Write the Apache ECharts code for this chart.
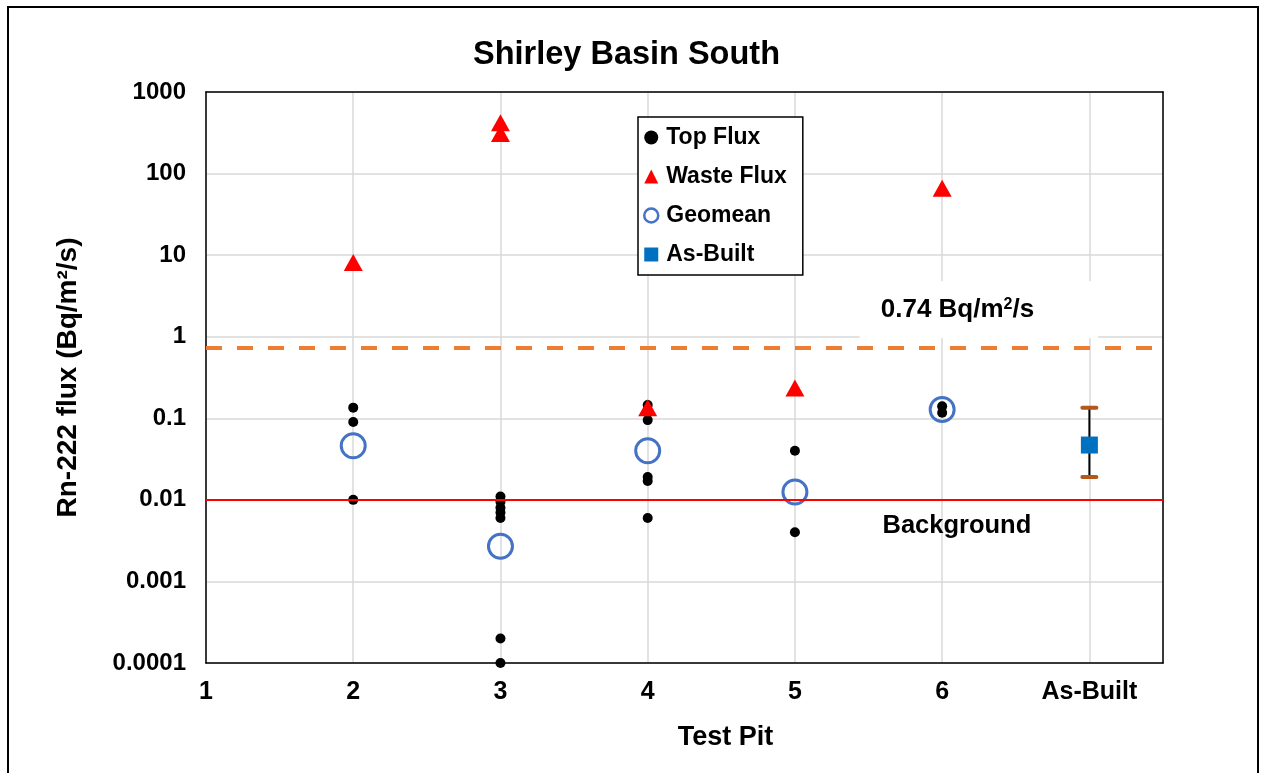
<!DOCTYPE html>
<html>
<head>
<meta charset="utf-8">
<script src="https://cdn.jsdelivr.net/npm/echarts@6/dist/echarts.min.js"></script>
<style>
html,body{margin:0;padding:0;background:#fff;}
#chart{width:1262px;height:773px;}
</style>
</head>
<body>
<div id="chart"></div>
<script>
// ---- data ----
const xTickLabels = ['1', '2', '3', '4', '5', '6', 'As-Built'];
const yTickLabels = ['0.0001', '0.001', '0.01', '0.1', '1', '10', '100', '1000'];
const topFlux = [
  [2, 0.135], [2, 0.09], [2, 0.01],
  [3, 0.011], [3, 0.0095], [3, 0.008], [3, 0.007], [3, 0.006], [3, 0.0002], [3, 0.0001],
  [4, 0.145], [4, 0.095], [4, 0.019], [4, 0.017], [4, 0.006],
  [5, 0.04], [5, 0.004],
  [6, 0.14], [6, 0.117]
];
const wasteFlux = [[2, 8.1], [3, 420], [3, 310], [4, 0.135], [5, 0.235], [6, 66]];
const geomean = [[2, 0.046], [3, 0.0027], [4, 0.04], [5, 0.0125], [6, 0.128]];
const asBuilt = [[7, 0.047]];
const asBuiltRange = [[7, 0.019, 0.135]]; // x, low, high
const limitValue = 0.74;
const backgroundValue = 0.01;

const FONT = '"Liberation Sans", Arial, sans-serif';
const chart = echarts.init(document.getElementById('chart'));

const frameAxisLine = { show: true, lineStyle: { color: '#000', width: 1.5 } };

chart.setOption({
  backgroundColor: '#fff',
  animation: false,
  textStyle: { fontFamily: FONT },
  title: {
    text: 'Shirley Basin South',
    left: 468,
    top: 34,
    textStyle: { fontFamily: FONT, fontSize: 32.5, fontWeight: 'bold', color: '#000' }
  },
  graphic: [{
    type: 'rect',
    shape: { x: 8, y: 7, width: 1250, height: 800 },
    style: { fill: 'none', stroke: '#000', lineWidth: 2 },
    silent: true
  }],
  legend: {
    orient: 'vertical',
    left: 638,
    top: 117,
    padding: [9, 16, 9, 5],
    itemGap: 16,
    itemWidth: 14,
    itemHeight: 14,
    borderColor: '#000',
    borderWidth: 1.5,
    backgroundColor: '#fff',
    textStyle: { fontFamily: FONT, fontSize: 23, fontWeight: 'bold', color: '#000', lineHeight: 21, padding: [0, 0, 0, 3] },
    data: [
      { name: 'Top Flux', icon: 'circle', itemStyle: { color: '#000' } },
      { name: 'Waste Flux', icon: 'triangle', itemStyle: { color: '#ff0000' } },
      { name: 'Geomean', icon: 'circle', itemStyle: { color: '#fff', borderColor: '#4472C4', borderWidth: 2.5 } },
      { name: 'As-Built', icon: 'rect', itemStyle: { color: '#0070C0' } }
    ]
  },
  grid: {
    left: 206, right: 99, top: 92, bottom: 110,
    show: false
  },
  xAxis: [{
    type: 'value',
    min: 1, max: 7.5, interval: 1,
    name: 'Test Pit',
    nameLocation: 'middle',
    nameGap: 61,
    nameTextStyle: { fontFamily: FONT, fontSize: 27, fontWeight: 'bold', color: '#000', padding: [0, 0, 0, 82] },
    axisLine: frameAxisLine,
    axisTick: { show: false },
    axisLabel: {
      margin: 17,
      fontFamily: FONT, fontSize: 25, fontWeight: 'bold', color: '#000',
      formatter: function (v) {
        if (Math.abs(v - Math.round(v)) < 1e-6 && v >= 1 && v <= 7) return xTickLabels[Math.round(v) - 1];
        return '';
      }
    },
    splitLine: { show: true, lineStyle: { color: '#d9d9d9', width: 1.5 } }
  }, {
    type: 'value', position: 'top', min: 1, max: 7.5, interval: 1,
    axisLine: frameAxisLine, axisTick: { show: false }, axisLabel: { show: false }, splitLine: { show: false }
  }],
  yAxis: [{
    type: 'log',
    logBase: 10,
    min: 0.0001, max: 1000,
    name: 'Rn-222 flux (Bq/m²/s)',
    nameLocation: 'middle',
    nameGap: 124,
    nameTextStyle: { fontFamily: FONT, fontSize: 28, fontWeight: 'bold', color: '#000' },
    axisLine: frameAxisLine,
    axisTick: { show: false },
    axisLabel: {
      margin: 20,
      fontFamily: FONT, fontSize: 24, fontWeight: 'bold', color: '#000',
      formatter: function (v) {
        const e = Math.round(Math.log10(v));
        return yTickLabels[e + 4] || '';
      }
    },
    splitLine: { show: true, lineStyle: { color: '#d9d9d9', width: 1.5 } }
  }, {
    type: 'log', logBase: 10, position: 'right', min: 0.0001, max: 1000,
    axisLine: frameAxisLine, axisTick: { show: false }, axisLabel: { show: false }, splitLine: { show: false }
  }],
  series: [
    {
      name: 'Reference lines',
      type: 'scatter',
      data: [],
      z: 2,
      markLine: {
        silent: true,
        symbol: 'none',
        label: { show: false },
        data: [
          { yAxis: limitValue, lineStyle: { color: '#ED7D31', width: 4, type: [16, 15] } },
          { yAxis: backgroundValue, lineStyle: { color: '#ff0000', width: 1.8, type: 'solid' } }
        ]
      },
      markPoint: {
        silent: true,
        symbol: 'rect',
        symbolSize: 1,
        itemStyle: { color: 'rgba(0,0,0,0)' },
        data: [
          {
            coord: [6.25, 2.14],
            label: {
              show: true, position: 'inside',
              backgroundColor: '#fff',
              padding: [15, 64, 15, 21],
              formatter: '{a|0.74 Bq/m}{s|2}{a|/s}',
              rich: {
                a: { fontFamily: FONT, fontSize: 26, fontWeight: 'bold', color: '#000' },
                s: { fontFamily: FONT, fontSize: 16, fontWeight: 'bold', color: '#000', padding: [0, 0, 11, 0] }
              }
            }
          },
          {
            coord: [6.1, 0.00483],
            label: {
              show: true, position: 'inside',
              formatter: 'Background',
              fontFamily: FONT, fontSize: 25.5, fontWeight: 'bold', color: '#000'
            }
          }
        ]
      }
    },
    {
      name: 'Geomean',
      type: 'scatter',
      data: geomean,
      symbol: 'circle',
      symbolSize: 24,
      z: 3,
      itemStyle: { color: 'rgba(255,255,255,0)', borderColor: '#4472C4', borderWidth: 3, opacity: 1 }
    },
    {
      name: 'Top Flux',
      type: 'scatter',
      data: topFlux,
      symbol: 'circle',
      symbolSize: 10,
      z: 4,
      itemStyle: { color: '#000', opacity: 1 }
    },
    {
      name: 'Waste Flux',
      type: 'scatter',
      data: wasteFlux,
      symbol: 'triangle',
      symbolSize: [19, 17],
      z: 5,
      itemStyle: { color: '#ff0000', opacity: 1 }
    },
    {
      name: 'As-Built range',
      type: 'custom',
      data: asBuiltRange,
      z: 4,
      renderItem: function (params, api) {
        const x = api.value(0);
        const lo = api.coord([x, api.value(1)]);
        const hi = api.coord([x, api.value(2)]);
        const hw = 7;
        return {
          type: 'group',
          children: [
            { type: 'line', shape: { x1: lo[0], y1: lo[1], x2: hi[0], y2: hi[1] }, style: { stroke: '#000', lineWidth: 2 } },
            { type: 'line', shape: { x1: lo[0] - hw, y1: lo[1], x2: lo[0] + hw, y2: lo[1] }, style: { stroke: '#B5561A', lineWidth: 4, lineCap: 'round' } },
            { type: 'line', shape: { x1: hi[0] - hw, y1: hi[1], x2: hi[0] + hw, y2: hi[1] }, style: { stroke: '#B5561A', lineWidth: 4, lineCap: 'round' } }
          ]
        };
      }
    },
    {
      name: 'As-Built',
      type: 'scatter',
      data: asBuilt,
      symbol: 'rect',
      symbolSize: 17,
      z: 6,
      itemStyle: { color: '#0070C0', opacity: 1 }
    }
  ]
});
</script>
</body>
</html>
